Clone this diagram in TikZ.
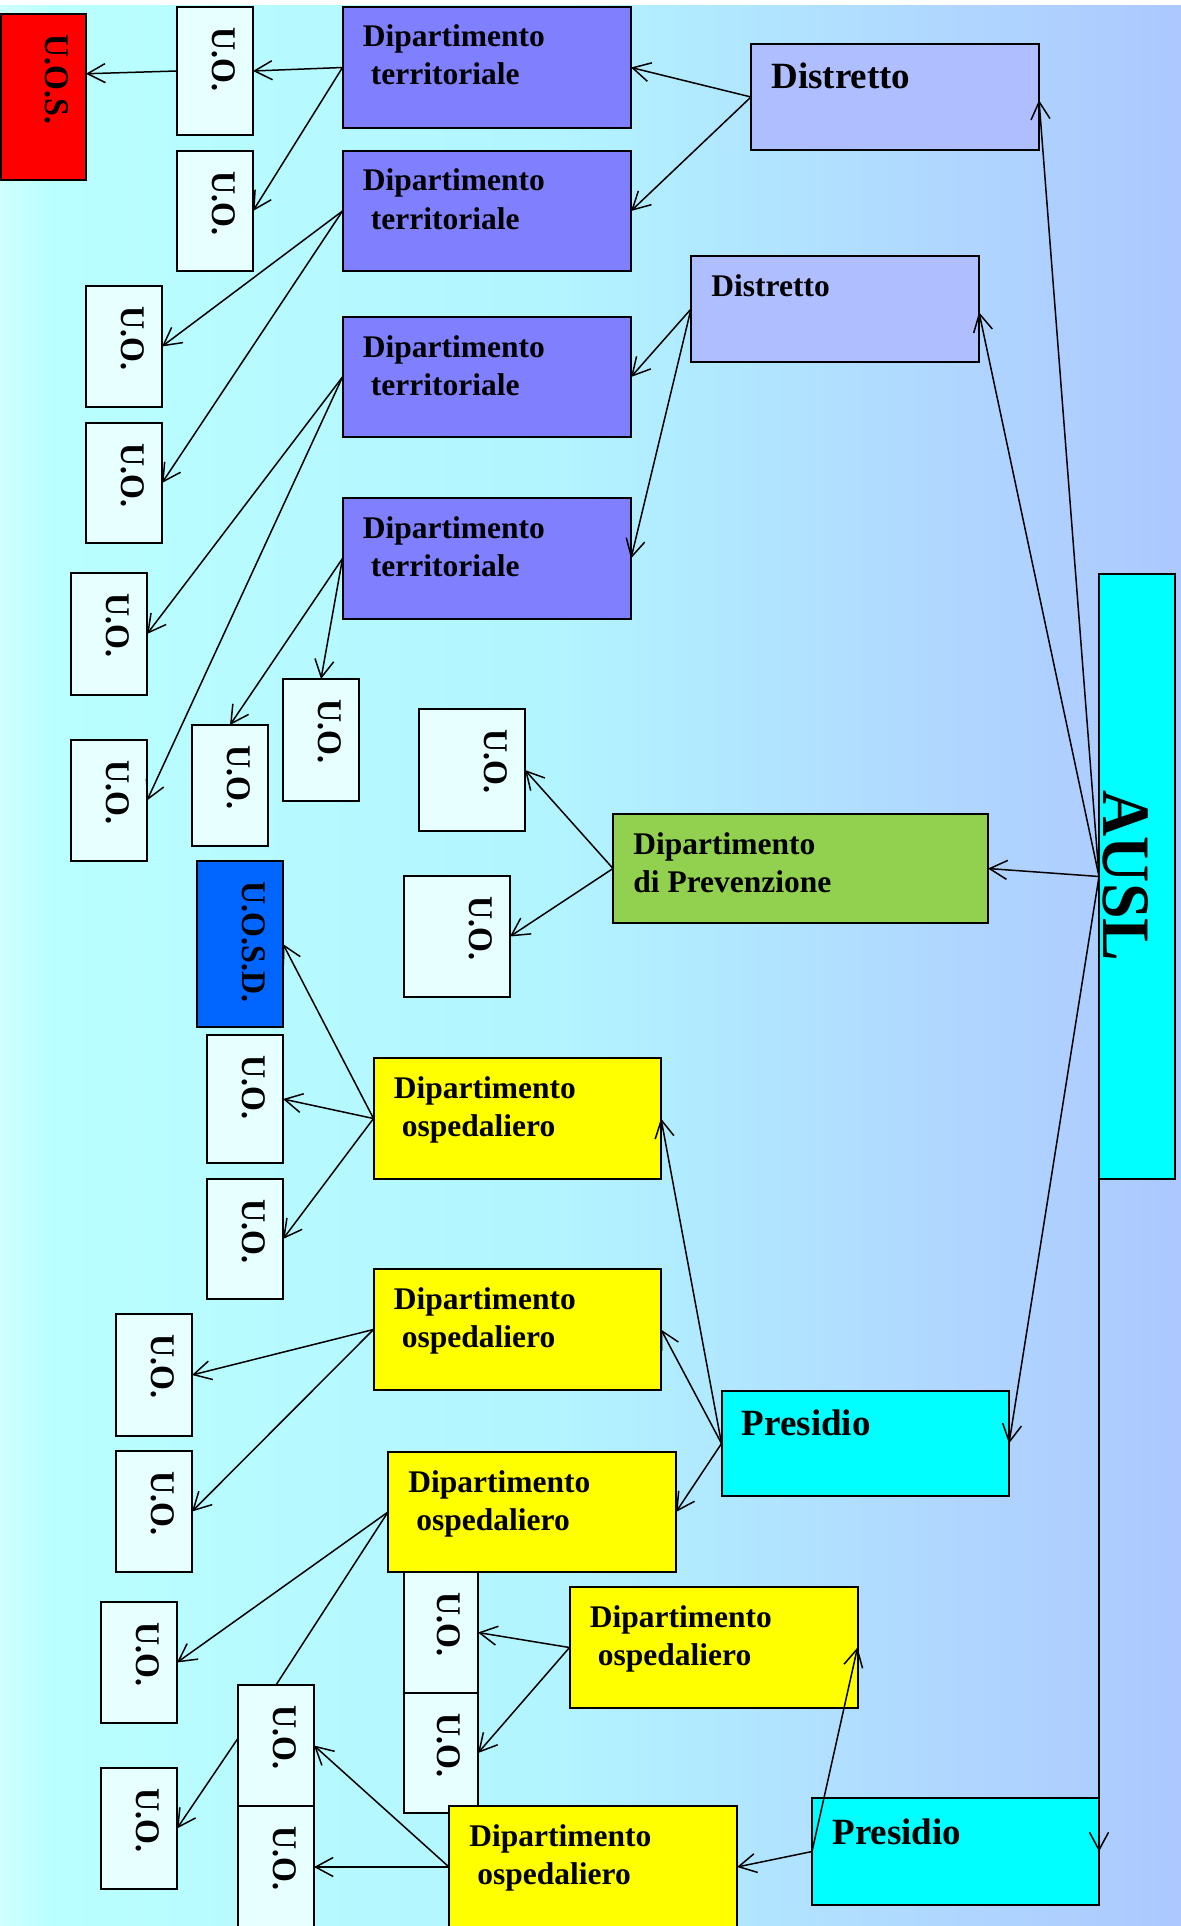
\documentclass[tikz,border=0pt]{standalone}
\usepackage{fontspec}
\setmainfont{Liberation Serif}
\usepackage{graphicx}
\usetikzlibrary{arrows.meta,calc,fit}

\definecolor{uofill}{RGB}{232,255,255}
\definecolor{uosred}{RGB}{255,0,0}
\definecolor{uosdblue}{RGB}{0,102,255}
\definecolor{terrblue}{RGB}{128,128,255}
\definecolor{distrblue}{RGB}{175,190,255}
\definecolor{prevgreen}{RGB}{146,208,80}
\definecolor{hospyellow}{RGB}{255,255,0}
\definecolor{aqua}{RGB}{0,255,255}
\definecolor{bgA}{RGB}{208,255,255}
\definecolor{bgB}{RGB}{186,255,255}
\definecolor{bgC}{RGB}{178,244,255}
\definecolor{bgD}{RGB}{176,214,255}
\definecolor{bgE}{RGB}{172,200,255}

% unit box: name, style, x1, y1, x2, y2, rotated label
\newcommand\unitbox[7]{%
  \node[#2, fit={(#3,#4) (#5,#6)}] (#1) {};
  \node[vlbl] (#1-t) at ({#5-41},{#4+20}) {\scalebox{1}[1.08]{#7}};
}
% department box: name, style, x1, y1, x2, y2, first line, second line, indent of second line
\newcommand\deptbox[9]{%
  \node[#2, fit={(#3,#4) (#5,#6)}] (#1) {};
  \node[lbl] (#1-a) at ({#3+20},{#4+40}) {#7};
  \node[lbl] (#1-b) at ({#3+20+#9},{#4+78}) {#8};
}

\begin{document}
\begin{tikzpicture}[x=0.5pt, y=-0.5pt,
  bx/.style={draw=black, line width=1pt, inner sep=0pt, outer sep=0pt},
  uo/.style={bx, fill=uofill},
  uos/.style={bx, fill=uosred},
  uosd/.style={bx, fill=uosdblue},
  terr/.style={bx, fill=terrblue},
  distr/.style={bx, fill=distrblue},
  prev/.style={bx, fill=prevgreen},
  hosp/.style={bx, fill=hospyellow},
  top/.style={bx, fill=aqua},
  lbl/.style={inner sep=0pt, anchor=base west, font=\fontsize{15.75pt}{19pt}\selectfont\bfseries},
  biglbl/.style={inner sep=0pt, anchor=base west, font=\fontsize{18.5pt}{22pt}\selectfont\bfseries},
  vlbl/.style={inner sep=0pt, anchor=base west, rotate=-90, font=\fontsize{16pt}{19pt}\selectfont\bfseries},
  link/.style={line width=0.75pt, -{Straight Barb[length=8.8pt, width=9.5pt]}},
  plain/.style={line width=0.75pt}
]
\useasboundingbox (0,0) rectangle (1181,1926);
\clip (0,0) rectangle (1181,1926);

% background: white top strip and horizontal colour gradient
\fill[white] (0,0) rectangle (1181,1926);
\shade[left color=bgA, right color=bgB] (0,6) rectangle (51,1926);
\shade[left color=bgB, right color=bgC] (50,6) rectangle (561,1926);
\shade[left color=bgC, right color=bgD] (560,6) rectangle (961,1926);
\shade[left color=bgD, right color=bgE] (960,6) rectangle (1181,1926);

% territorial branch
\unitbox{uos}{uos}{1}{14}{86}{180}{U.O.S.}
\unitbox{uo1}{uo}{177}{7}{253}{135}{U.O.}
\unitbox{uo2}{uo}{177}{151}{253}{271}{U.O.}
\unitbox{uo3}{uo}{86}{286}{162}{407}{U.O.}
\unitbox{uo4}{uo}{86}{423}{162}{543}{U.O.}
\unitbox{uo5}{uo}{71}{573}{147}{695}{U.O.}
\unitbox{uo6}{uo}{71}{740}{147}{861}{U.O.}
\unitbox{uo7}{uo}{192}{725}{268}{846}{U.O.}
\unitbox{uo8}{uo}{283}{679}{359}{801}{U.O.}

\deptbox{dt1}{terr}{342.5}{7}{631}{128}{Dipartimento}{territoriale}{8}
\deptbox{dt2}{terr}{342.5}{151}{631}{271}{Dipartimento}{territoriale}{8}
\deptbox{dt3}{terr}{342.5}{317}{631}{437}{Dipartimento}{territoriale}{8}
\deptbox{dt4}{terr}{342.5}{498}{631}{619}{Dipartimento}{territoriale}{8}

\node[distr, fit={(751,44) (1039,150)}] (d1) {};
\node[biglbl] (d1-t) at (771,89) {Distretto};
\node[distr, fit={(691,256) (979,362)}] (d2) {};
\node[lbl] (d2-t) at (711,296) {Distretto};

% prevention branch
\unitbox{uo9}{uo}{419}{709}{525}{831}{U.O.}
\unitbox{uo10}{uo}{404}{876}{510}{997}{U.O.}
\deptbox{dp}{prev}{613}{814}{988}{923}{Dipartimento}{di Prevenzione}{0}

% top level
\node[top, fit={(1099,574) (1175,1179)}] (ausl) {};
\node[inner sep=0pt, anchor=base, rotate=-90, font=\fontsize{32pt}{36pt}\selectfont\bfseries]
  (ausl-t) at (1103,876) {\scalebox{1}[1.06]{AUSL}};

% hospital branch
\unitbox{uosd}{uosd}{197}{861}{283}{1027}{U.O.S.D.}
\unitbox{uo11}{uo}{207}{1035}{283}{1163}{U.O.}
\unitbox{uo12}{uo}{207}{1179}{283}{1299}{U.O.}
\unitbox{uo13}{uo}{116}{1314}{192}{1436}{U.O.}
\unitbox{uo14}{uo}{116}{1451}{192}{1572}{U.O.}
\unitbox{uo15}{uo}{101}{1602}{177}{1723}{U.O.}
\unitbox{uo16}{uo}{101}{1768}{177}{1889}{U.O.}
\unitbox{uo17}{uo}{238}{1685}{314}{1806}{U.O.}
\unitbox{uo18}{uo}{238}{1806}{314}{1928}{U.O.}

\deptbox{do1}{hosp}{373.5}{1058}{661}{1179}{Dipartimento}{ospedaliero}{8}
\deptbox{do2}{hosp}{373.5}{1269}{661}{1390}{Dipartimento}{ospedaliero}{8}
\deptbox{do3}{hosp}{388}{1452}{676}{1572}{Dipartimento}{ospedaliero}{8}

\unitbox{uo19}{uo}{404}{1572}{478}{1693}{U.O.}
\unitbox{uo20}{uo}{404}{1693}{478}{1813}{U.O.}

\deptbox{do4}{hosp}{569.5}{1587}{857.5}{1708}{Dipartimento}{ospedaliero}{8}
\deptbox{do5}{hosp}{449}{1806}{737}{1928}{Dipartimento}{ospedaliero}{8}

\node[top, fit={(721.5,1391) (1009,1496)}] (p1) {};
\node[biglbl] (p1-t) at (741.5,1435) {Presidio};
\node[top, fit={(812,1798) (1099,1905)}] (p2) {};
\node[biglbl] (p2-t) at (832,1844) {Presidio};

% connectors
\draw[link] (dt1.west) -- (uo1.east);
\draw[link] (uo1.west) -- ($(uos.north east)!.36!(uos.south east)$);
\draw[link] (dt1.west) -- (uo2.east);
\draw[link] (d1.west) -- (dt1.east);
\draw[link] (d1.west) -- (dt2.east);
\draw[link] (dt2.west) -- (uo3.east);
\draw[link] (dt2.west) -- (uo4.east);
\draw[link] (d2.west) -- (dt3.east);
\draw[link] (d2.west) -- (dt4.east);
\draw[link] (dt3.west) -- (uo5.east);
\draw[link] (dt3.west) -- (uo6.east);
\draw[link] (dt4.west) -- (uo7.north);
\draw[link] (dt4.west) -- (uo8.north);

\draw[link] (ausl.west) -- ($(d1.north east)!.53!(d1.south east)$);
\draw[link] (ausl.west) -- ($(d2.north east)!.53!(d2.south east)$);
\draw[link] (ausl.west) -- (dp.east);
\draw[link] (ausl.west) -- (p1.east);
\draw[link] (ausl.west) -- (p2.east);

\draw[link] (dp.west) -- (uo9.east);
\draw[link] (dp.west) -- (uo10.east);

\draw[link] (p1.west) -- (do1.east);
\draw[link] (p1.west) -- (do2.east);
\draw[link] (p1.west) -- (do3.east);
\draw[link] (do1.west) -- (uosd.east);
\draw[link] (do1.west) -- (uo11.east);
\draw[link] (do1.west) -- (uo12.east);
\draw[link] (do2.west) -- (uo13.east);
\draw[link] (do2.west) -- (uo14.east);
\draw[link] (do3.west) -- (uo15.east);
\draw[plain] (do3.west) -- (uo17.north);
\draw[link] ($(uo17.north west)!.44!(uo17.south west)$) -- (uo16.east);

\draw[link] (p2.west) -- (do4.east);
\draw[link] (p2.west) -- (do5.east);
\draw[link] (do4.west) -- (uo19.east);
\draw[link] (do4.west) -- (uo20.east);
\draw[link] (do5.west) -- (uo17.east);
\draw[link] (do5.west) -- (uo18.east);
\end{tikzpicture}
\end{document}
